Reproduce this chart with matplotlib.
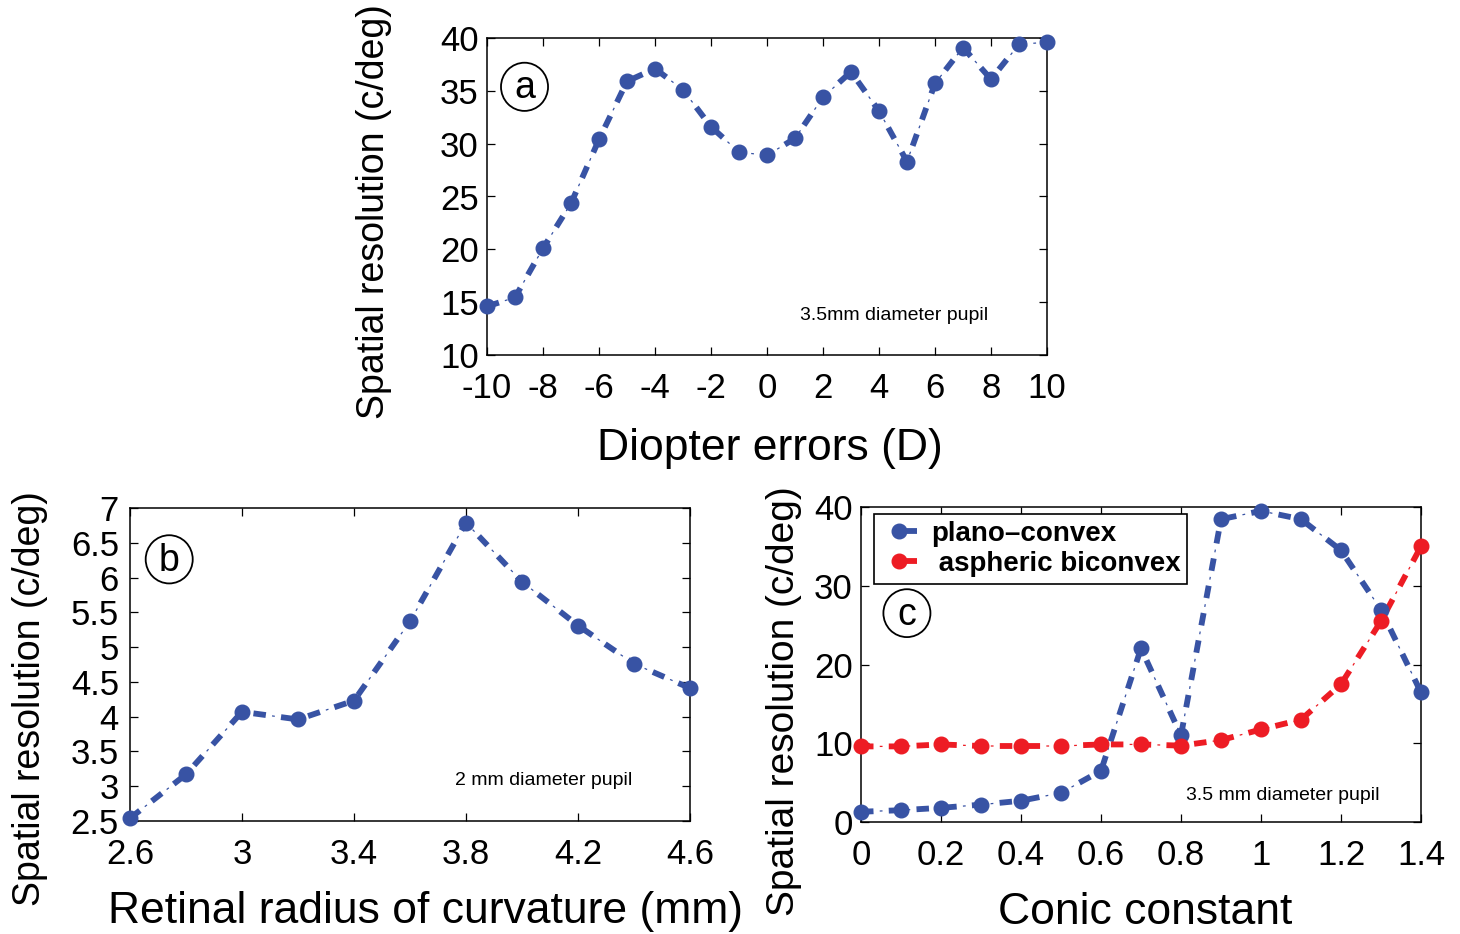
import numpy as np
import matplotlib
matplotlib.use("Agg")
import matplotlib.pyplot as plt
from matplotlib.patches import Ellipse
from matplotlib.legend_handler import HandlerTuple

plt.rcParams['font.family'] = ['Liberation Sans', 'DejaVu Sans']
plt.rcParams['lines.scale_dashes'] = False
plt.rcParams['axes.unicode_minus'] = False

BLUE = "#3853A4"
RED = "#ED1C24"

# panel (a): spatial resolution vs diopter error, 3.5 mm pupil
diopter = [-10, -9, -8, -7, -6, -5, -4, -3, -2, -1, 0, 1, 2, 3, 4, 5, 6, 7, 8, 9, 10]
res_a = [14.6, 15.45, 20.1, 24.35, 30.4, 35.9, 37.1, 35.1, 31.6, 29.2, 28.9,
         30.5, 34.4, 36.8, 33.1, 28.3, 35.7, 39.1, 36.1, 39.4, 39.6]

# panel (b): spatial resolution vs retinal radius of curvature, 2 mm pupil
radius = [2.6, 2.8, 3.0, 3.2, 3.4, 3.6, 3.8, 4.0, 4.2, 4.4, 4.6]
res_b = [2.54, 3.17, 4.07, 3.96, 4.23, 5.37, 6.79, 5.94, 5.31, 4.76, 4.41]

# panel (c): spatial resolution vs conic constant, 3.5 mm pupil
conic = [0.0, 0.1, 0.2, 0.3, 0.4, 0.5, 0.6, 0.7, 0.8, 0.9, 1.0, 1.1, 1.2, 1.3, 1.4]
res_plano = [1.3, 1.5, 1.8, 2.2, 2.7, 3.7, 6.5, 22.05, 11.0, 38.45, 39.5, 38.45, 34.5, 26.95, 16.45]
res_asph = [9.6, 9.6, 9.85, 9.65, 9.65, 9.65, 9.85, 9.85, 9.7, 10.4, 11.75, 13.0, 17.5, 25.5, 35.0]

FS_TICK = 25
FS_XLAB = 32
FS_YLAB = 27


def dashdot(ax, x, y, color):
    """MATLAB-like thick '-.' line: thick dashes with thin dots between."""
    thick, = ax.plot(x, y, color=color, lw=4.2, ls=(0, (9, 11)),
                     dash_capstyle="butt", clip_on=False, zorder=3)
    thin, = ax.plot(x, y, color=color, lw=0.9, ls=(6.5, (2, 18)),
                    dash_capstyle="butt", clip_on=False, zorder=3)
    mk, = ax.plot(x, y, "o", color=color, ms=10.5, mec=color, clip_on=False, zorder=4)
    return (thin, mk, thick)


def style_axes(ax, xpad, ypad):
    ax.tick_params(direction="in", top=True, right=True, length=5.5, width=0.9,
                   labelsize=FS_TICK, colors="black")
    ax.tick_params(axis="x", pad=xpad)
    ax.tick_params(axis="y", pad=ypad)
    for sp in ax.spines.values():
        sp.set_linewidth(1.1)


def circle_tag(ax, cx, cy, w, h, letter):
    ax.add_patch(Ellipse((cx, cy), w, h, transform=ax.transAxes, fill=False,
                         lw=1.3, color="black", zorder=5))
    ax.text(cx, cy - 0.005, letter, transform=ax.transAxes, ha="center", va="center",
            fontsize=27, zorder=6)


fig = plt.figure(figsize=(14.6, 9.34), dpi=100)

# ---- (a)
ax_a = fig.add_axes([487 / 1460, (934 - 355) / 934, 560 / 1460, 317 / 934])
dashdot(ax_a, diopter, res_a, BLUE)
ax_a.set_xlim(-10, 10)
ax_a.set_ylim(10, 40)
ax_a.set_xticks(np.arange(-10, 11, 2))
ax_a.set_yticks(np.arange(10, 41, 5))
style_axes(ax_a, 12, 6)
ax_a.set_xlabel("Diopter errors (D)", fontsize=FS_XLAB)
ax_a.set_ylabel("Spatial resolution (c/deg)", fontsize=FS_YLAB)
ax_a.xaxis.set_label_coords(0.506, -0.23)
ax_a.yaxis.set_label_coords(-0.170, 0.453)
ax_a.text(0.559, 0.126, "3.5mm diameter pupil", transform=ax_a.transAxes,
          fontsize=14, ha="left", va="center")
circle_tag(ax_a, 0.067, 0.846, 0.084, 0.152, "a")

# ---- (b)
ax_b = fig.add_axes([130 / 1460, (934 - 821) / 934, 560 / 1460, 313 / 934])
dashdot(ax_b, radius, res_b, BLUE)
ax_b.set_xlim(2.6, 4.6)
ax_b.set_ylim(2.5, 7)
ax_b.set_xticks([2.6, 3.0, 3.4, 3.8, 4.2, 4.6])
ax_b.set_xticklabels(["2.6", "3", "3.4", "3.8", "4.2", "4.6"])
ax_b.set_yticks(np.arange(2.5, 7.01, 0.5))
ax_b.set_yticklabels(["2.5", "3", "3.5", "4", "4.5", "5", "5.5", "6", "6.5", "7"])
style_axes(ax_b, 12, 8)
ax_b.set_xlabel("Retinal radius of curvature (mm)", fontsize=FS_XLAB)
ax_b.set_ylabel("Spatial resolution (c/deg)", fontsize=FS_YLAB)
ax_b.xaxis.set_label_coords(0.527, -0.225)
ax_b.yaxis.set_label_coords(-0.146, 0.39)
ax_b.text(0.58, 0.128, "2 mm diameter pupil", transform=ax_b.transAxes,
          fontsize=14, ha="left", va="center")
circle_tag(ax_b, 0.070, 0.836, 0.084, 0.154, "b")

# ---- (c)
ax_c = fig.add_axes([861 / 1460, (934 - 822) / 934, 560 / 1460, 315 / 934])
h_plano = dashdot(ax_c, conic, res_plano, BLUE)
h_asph = dashdot(ax_c, conic, res_asph, RED)
ax_c.set_xlim(0, 1.4)
ax_c.set_ylim(0, 40)
ax_c.set_xticks([0, 0.2, 0.4, 0.6, 0.8, 1.0, 1.2, 1.4])
ax_c.set_xticklabels(["0", "0.2", "0.4", "0.6", "0.8", "1", "1.2", "1.4"])
ax_c.set_yticks([0, 10, 20, 30, 40])
style_axes(ax_c, 12, 6)
ax_c.set_xlabel("Conic constant", fontsize=FS_XLAB)
ax_c.set_ylabel("Spatial resolution (c/deg)", fontsize=28)
ax_c.xaxis.set_label_coords(0.508, -0.222)
ax_c.yaxis.set_label_coords(-0.105, 0.383)
ax_c.text(0.58, 0.083, "3.5 mm diameter pupil", transform=ax_c.transAxes,
          fontsize=14, ha="left", va="center")
circle_tag(ax_c, 0.082, 0.663, 0.084, 0.152, "c")
leg = ax_c.legend([h_plano, h_asph], ["plano\u2013convex", " aspheric biconvex"],
                  handler_map={tuple: HandlerTuple(ndivide=None, pad=0)},
                  loc="upper left", bbox_to_anchor=(0.023, 0.978), borderaxespad=0,
                  prop={"weight": "bold", "size": 20}, fancybox=False, framealpha=1,
                  edgecolor="black", handlelength=1.3, handletextpad=0.5,
                  borderpad=0.25, labelspacing=0.15)
leg.get_frame().set_linewidth(1.2)
leg.set_zorder(7)

fig.savefig("out.png", dpi=100)
